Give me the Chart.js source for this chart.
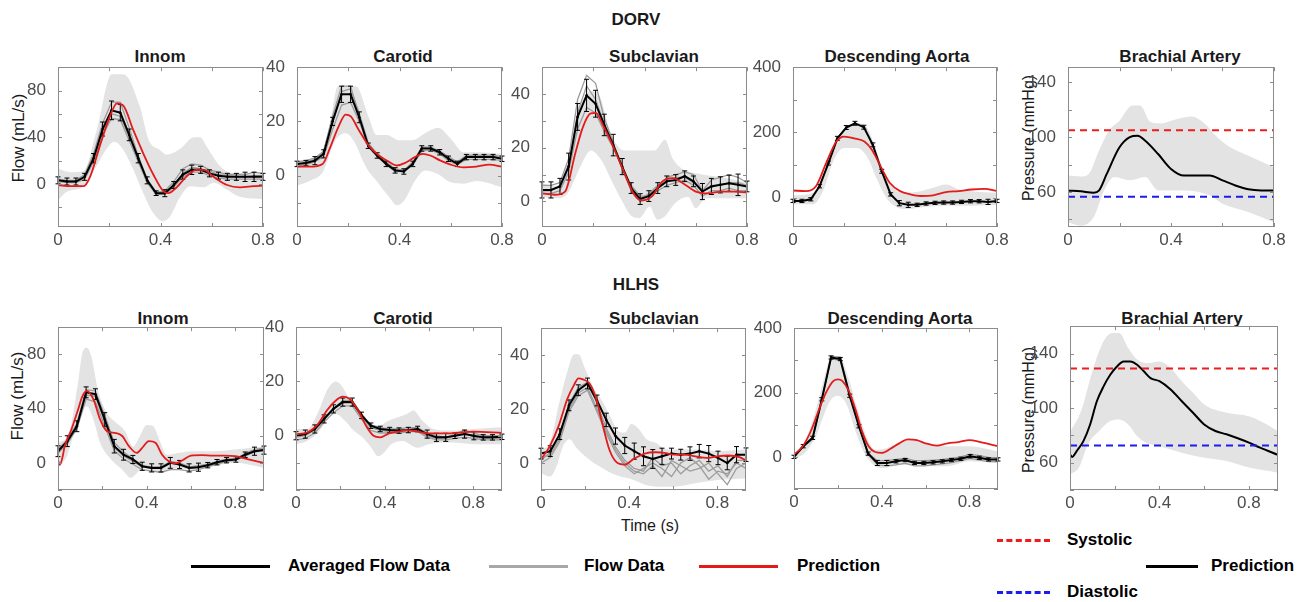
<!DOCTYPE html>
<html>
<head>
<meta charset="utf-8">
<script src="https://cdn.jsdelivr.net/npm/chart.js@4.4.0/dist/chart.umd.min.js"></script>
<style>
  body { margin: 0; width: 1302px; height: 602px; background: #fff; position: relative; overflow: hidden;
         font-family: "Liberation Sans", Arial, Helvetica, sans-serif; }
  canvas { position: absolute; }
  .t { position: absolute; white-space: nowrap; transform: translate(-50%, -50%); line-height: 20px; }
  .b { font-weight: bold; color: #1a1a1a; }
  .rot { transform: translate(-50%, -50%) rotate(-90deg); font-size: 17px; color: #1a1a1a; }
  .leg { position: absolute; white-space: nowrap; font-weight: bold; font-size: 17px; color: #000; line-height: 20px; }
  .ln { position: absolute; height: 3px; }
  .dash { position: absolute; height: 0; }
</style>
</head>
<body>

<div class="t b" style="left:636px;top:20px;font-size:17px">DORV</div>
<div class="t b" style="left:636px;top:285px;font-size:17px">HLHS</div>

<div class="t b" style="left:160px;top:57px;font-size:17px">Innom</div>
<div class="t b" style="left:403px;top:57px;font-size:17px">Carotid</div>
<div class="t b" style="left:654px;top:57px;font-size:17px">Subclavian</div>
<div class="t b" style="left:897px;top:57px;font-size:17px">Descending Aorta</div>
<div class="t b" style="left:1180px;top:57px;font-size:17px">Brachial Artery</div>

<div class="t b" style="left:163px;top:319px;font-size:17px">Innom</div>
<div class="t b" style="left:403px;top:319px;font-size:17px">Carotid</div>
<div class="t b" style="left:654px;top:319px;font-size:17px">Subclavian</div>
<div class="t b" style="left:900px;top:319px;font-size:17px">Descending Aorta</div>
<div class="t b" style="left:1182px;top:319px;font-size:17px">Brachial Artery</div>

<div class="t rot" style="left:19px;top:138px">Flow (mL/s)</div>
<div class="t rot" style="left:18px;top:396px">Flow (mL/s)</div>
<div class="t rot" style="left:1029px;top:138px;font-size:16px">Pressure (mmHg)</div>
<div class="t rot" style="left:1029px;top:410px;font-size:16px">Pressure (mmHg)</div>

<div class="t" style="left:650px;top:526px;font-size:16px;color:#1a1a1a">Time (s)</div>

<div class="ln" style="left:191px;top:565px;width:79px;background:#000"></div>
<div class="leg" style="left:288px;top:556px">Averaged Flow Data</div>
<div class="ln" style="left:489px;top:565px;width:79px;background:#a8a8a8"></div>
<div class="leg" style="left:584px;top:556px">Flow Data</div>
<div class="ln" style="left:699px;top:565px;width:79px;background:#e31b1b"></div>
<div class="leg" style="left:797px;top:556px">Prediction</div>

<div class="dash" style="left:997px;top:539px;width:53px;border-top:3px dashed #ee1c1c"></div>
<div class="leg" style="left:1067px;top:530px">Systolic</div>
<div class="ln" style="left:1146px;top:565px;width:52px;background:#000"></div>
<div class="leg" style="left:1211px;top:556px">Prediction</div>
<div class="dash" style="left:997px;top:591px;width:53px;border-top:3px dashed #1c1cf0"></div>
<div class="leg" style="left:1067px;top:582px">Diastolic</div>

<script>
// time samples of the measured flow curves
const T_TOP = [0, 0.035, 0.07, 0.104, 0.139, 0.174, 0.209, 0.243, 0.278, 0.313, 0.348, 0.383,
  0.417, 0.452, 0.487, 0.522, 0.557, 0.591, 0.626, 0.661, 0.696, 0.730, 0.765, 0.8];
const T_BOT = [0, 0.042, 0.085, 0.127, 0.169, 0.211, 0.254, 0.296, 0.338, 0.380, 0.423, 0.465,
  0.507, 0.549, 0.592, 0.634, 0.676, 0.718, 0.761, 0.803, 0.845, 0.887, 0.93];
const X_LABELS = [0, 0.4, 0.8];

// ---- DORV ----
const dorvInnomAvg = [3, 2, 2, 6, 22, 47, 63, 61, 42, 22, 3, -8, -8, -1, 8, 12, 12, 9, 7, 6, 6, 6, 6, 6];
const dorvInnomErr = [3, 3, 3, 3, 4, 6, 8, 7, 5, 4, 3, 2, 3, 3, 4, 4, 3, 3, 3, 3, 3, 4, 4, 3];
const dorvInnomFlow1 = [4, 3, 3, 8, 26, 52, 70, 70, 48, 24, 4, -8, -6, 2, 13, 17, 16, 12, 10, 8, 8, 8, 10, 9];
const dorvInnomFlow2 = [2, 1, 1, 4, 19, 42, 56, 55, 37, 19, 1, -9, -9, -3, 6, 10, 10, 7, 5, 4, 4, 4, 4, 4];
const dorvInnomFlow3 = [3, 2, 2, 6, 21, 45, 60, 58, 40, 21, 3, -7, -7, -1, 9, 14, 13, 11, 8, 7, 6, 6, 7, 7];
const dorvInnomPredT = [0, 0.05, 0.1, 0.125, 0.164, 0.203, 0.23, 0.255, 0.294, 0.333, 0.372, 0.41, 0.43, 0.463, 0.5, 0.54, 0.57, 0.607, 0.66, 0.71, 0.763, 0.8];
const dorvInnomPred = [-1, -2, -2, 6, 33, 58, 69, 67, 46, 26, 8, -6, -8, -3, 6, 12, 12, 6, -1, -3, -2, -1.5];
const dorvInnomHiT = [0, 0.05, 0.1, 0.15, 0.21, 0.255, 0.32, 0.353, 0.398, 0.424, 0.477, 0.53, 0.555, 0.58, 0.633, 0.685, 0.8];
const dorvInnomHi = [13, 10, 11, 45, 94, 94, 66, 38, 29, 25, 30, 40, 40, 32, 15, 9, 9];
const dorvInnomLoT = [0, 0.033, 0.1, 0.15, 0.19, 0.22, 0.255, 0.294, 0.333, 0.372, 0.41, 0.437, 0.477, 0.516, 0.568, 0.607, 0.66, 0.71, 0.8];
const dorvInnomLo = [-14, -7, -2, 15, 30, 36, 29, 12, -8, -25, -32, -28, -11, -2, -3, 1, -5, -11, -13];

const dorvCarotidAvg = [4.3, 4.6, 5.5, 8, 20, 30, 30, 21.5, 11, 7.4, 4.3, 1.9, 1.5, 4.3, 10, 10, 8.6, 6.2, 4.3, 6.8, 6.8, 6.8, 6.8, 6.2];
const dorvCarotidErr = [1, 1, 1.5, 1.5, 1.5, 3, 3, 2, 1, 1, 1, 1, 1, 1, 1, 1, 1, 1, 1, 1, 1, 1, 1, 1];
const dorvCarotidFlow1 = [4, 5, 6, 9, 22, 33, 33, 22, 11, 7, 4, 1.5, 1.5, 5, 10.5, 10.5, 9, 6.5, 5, 7.5, 7.5, 7.5, 7.5, 7];
const dorvCarotidFlow2 = [3.5, 4, 5, 7, 17, 26, 27, 20, 10.5, 7, 4.5, 2, 1.5, 4, 9, 9.5, 8, 5.5, 4, 6, 6, 6, 6, 5.5];
const dorvCarotidFlow3 = [5, 5.5, 6.5, 9, 21, 31, 32, 23, 12, 8, 5, 2.5, 2, 5, 10, 10, 9, 7, 5, 7, 7, 7.5, 7, 6.5];
const dorvCarotidPredT = [0, 0.05, 0.1, 0.13, 0.16, 0.19, 0.21, 0.24, 0.28, 0.32, 0.36, 0.39, 0.42, 0.46, 0.49, 0.52, 0.56, 0.6, 0.65, 0.7, 0.75, 0.8];
const dorvCarotidPred = [3.3, 3.3, 4.3, 10.5, 17.6, 22.5, 21.8, 17, 11, 7.4, 5, 3.7, 4.6, 6.8, 8, 7.4, 5.5, 4, 3, 3.3, 4, 3.3];
const dorvCarotidHiT = [0, 0.05, 0.1, 0.13, 0.16, 0.23, 0.28, 0.31, 0.35, 0.4, 0.45, 0.5, 0.55, 0.6, 0.65, 0.7, 0.8];
const dorvCarotidHi = [5.5, 6, 9, 20, 33, 33, 21.5, 15, 15, 13, 13, 15.6, 17.6, 13.6, 8.6, 8.6, 8];
const dorvCarotidLoT = [0, 0.05, 0.1, 0.15, 0.19, 0.22, 0.27, 0.31, 0.36, 0.39, 0.42, 0.46, 0.5, 0.55, 0.6, 0.65, 0.7, 0.8];
const dorvCarotidLo = [-3.7, -1.9, 1.2, 13, 15.6, 13, 3, -1.9, -8, -11, -9, -2, 1.9, 0.6, -2.5, -3, -2, -4.3];

const dorvSubclAvg = [4.3, 4.3, 5.6, 13, 31.5, 39.5, 36.4, 28.5, 21, 13, 5, 0.9, 2, 5, 7.5, 8, 9.4, 7.5, 3.7, 5.6, 6.2, 6.8, 6.2, 5.6];
const dorvSubclErr = [3, 3, 3, 5, 5, 6, 5, 4, 4, 3, 2, 2, 2, 2, 2, 2, 2, 2, 3, 3, 3, 3, 4, 2];
const dorvSubclFlow1 = [6, 6, 7, 16, 38, 47, 44, 31, 22, 12, 4, 0, 1, 5, 9, 10, 11, 10, 4, 8, 9, 10, 9, 7];
const dorvSubclFlow2 = [3, 3, 4, 11, 27, 35, 33, 26, 20, 13, 6, 2, 2, 4, 6, 7, 8, 6, 2, 4, 4, 5, 4, 4];
const dorvSubclFlow3 = [4, 4, 6, 14, 33, 43, 38, 29, 21, 12, 5, 1, 3, 6, 8, 9, 9, 7, 4, 6, 6, 7, 7, 6];
const dorvSubclPredT = [0, 0.05, 0.09, 0.13, 0.16, 0.19, 0.21, 0.24, 0.28, 0.32, 0.36, 0.39, 0.43, 0.47, 0.51, 0.55, 0.6, 0.65, 0.7, 0.75, 0.8];
const dorvSubclPred = [3, 2.5, 3.7, 18, 27.8, 32.8, 33, 28, 20, 11, 2.5, 0.4, 2, 7.5, 8.7, 6.8, 3.7, 3, 3.7, 3.7, 3.4];
const dorvSubclHiT = [0, 0.06, 0.1, 0.15, 0.19, 0.22, 0.27, 0.32, 0.38, 0.44, 0.48, 0.51, 0.55, 0.6, 0.7, 0.8];
const dorvSubclHi = [6.8, 5.6, 13, 35, 41, 40, 25, 19, 19, 19, 23, 16, 12, 10.5, 9, 7];
const dorvSubclLoT = [0, 0.06, 0.1, 0.15, 0.19, 0.23, 0.27, 0.31, 0.35, 0.38, 0.42, 0.45, 0.48, 0.52, 0.57, 0.6, 0.64, 0.7, 0.8];
const dorvSubclLo = [1.8, 1.2, 3, 13, 19, 15.6, 8, 0.6, -5.5, -6.2, -1.9, -6.8, -5.5, -0.6, 1.8, -2.5, 1.2, 1.2, 1.2];

const dorvAortaAvg = [-10, -10, -5, 35, 106, 182, 215, 228, 216, 162, 81, 10, -17, -22, -22, -18, -16, -15, -15, -13, -11, -11, -13, -10];
const dorvAortaErr = [5, 5, 5, 5, 6, 6, 6, 6, 6, 6, 6, 5, 8, 8, 5, 5, 5, 5, 5, 5, 5, 5, 8, 5];
const dorvAortaPredT = [0, 0.05, 0.09, 0.13, 0.17, 0.2, 0.24, 0.28, 0.31, 0.35, 0.38, 0.42, 0.46, 0.5, 0.55, 0.6, 0.65, 0.7, 0.75, 0.8];
const dorvAortaPred = [22, 20, 35, 106, 172, 187, 182, 172, 146, 86, 45, 20, 10, 5, 7, 17, 20, 25, 27, 20];
const dorvAortaHiT = [0, 0.08, 0.12, 0.16, 0.2, 0.25, 0.29, 0.33, 0.37, 0.41, 0.45, 0.5, 0.55, 0.6, 0.65, 0.7, 0.8];
const dorvAortaHi = [7, 15, 75, 162, 212, 228, 215, 136, 55, 20, 15, 20, 30, 40, 25, 20, 15];
const dorvAortaLoT = [0, 0.08, 0.12, 0.16, 0.2, 0.25, 0.29, 0.33, 0.37, 0.41, 0.45, 0.5, 0.6, 0.7, 0.8];
const dorvAortaLo = [-20, -20, 25, 116, 152, 152, 126, 55, -5, -30, -35, -30, -25, -25, -22];

const dorvBrachPredT = [0, 0.05, 0.1, 0.12, 0.15, 0.2, 0.24, 0.27, 0.3, 0.35, 0.4, 0.45, 0.5, 0.55, 0.6, 0.65, 0.7, 0.75, 0.8];
const dorvBrachPred = [61.2, 60.5, 59.5, 61, 73, 92.6, 100, 101, 97.4, 87.7, 76.8, 72, 72, 72, 68.5, 64.8, 62, 61.2, 61.2];
const dorvBrachHiT = [0, 0.05, 0.08, 0.12, 0.16, 0.2, 0.25, 0.28, 0.32, 0.36, 0.42, 0.48, 0.53, 0.58, 0.63, 0.7, 0.8];
const dorvBrachHi = [72, 71.3, 73, 90, 105, 112, 123, 123, 111, 110, 113, 115, 110, 100, 92.6, 86.5, 78];
const dorvBrachLoT = [0, 0.05, 0.1, 0.14, 0.18, 0.24, 0.3, 0.35, 0.45, 0.55, 0.6, 0.7, 0.8];
const dorvBrachLo = [38, 35.5, 41.8, 61.2, 71, 68.6, 71, 61.2, 61.2, 57.6, 51.5, 45.5, 38];
const dorvSystolic = 105;
const dorvDiastolic = 56.5;

// ---- HLHS ----
const hlhsInnomAvg = [8.6, 16, 27, 52, 50.6, 32, 12.3, 6, 2.5, -2.5, -3.7, -3.7, 0, -1.2, -3.7, -3.2, -1.7, 0.5, 2, 2.5, 6, 8.6, 9.4];
const hlhsInnomErr = [4, 4, 4, 4, 4, 5, 5, 4, 3, 3, 3, 3, 4, 3, 3, 3, 2, 2, 2, 2, 2, 3, 3];
const hlhsInnomFlow1 = [10, 17, 29, 54, 53, 35, 15, 8, 3, -2, -3, -3, 1, 0, -3, -2, -1, 1, 3, 3, 7, 10, 11];
const hlhsInnomFlow2 = [7, 14, 25, 47, 45, 27, 9, 3, -1, -5, -6, -7, -5, -5, -6, -5, -3, -1, 1, 2, 5, 8, 9];
const hlhsInnomFlow3 = [9, 15, 26, 50, 49, 30, 11, 5, 1, -3, -4, -3, 0, -1, -3, -3, -2, 0, 2, 3, 6, 9, 10];
const hlhsInnomPredT = [0, 0.008, 0.02, 0.03, 0.06, 0.09, 0.11, 0.13, 0.16, 0.19, 0.22, 0.26, 0.29, 0.32, 0.355, 0.38, 0.41, 0.44, 0.47, 0.5, 0.53, 0.56, 0.6, 0.65, 0.7, 0.75, 0.8, 0.85, 0.93];
const hlhsInnomPred = [2, -1.5, 4, 12, 24.4, 39, 49, 53, 46.8, 32, 23.5, 22, 19.8, 12.3, 7.4, 11, 16, 14.8, 6, 1.2, -0.5, 1.7, 5.4, 5.7, 5.4, 5.4, 4.9, 3, 0];
const hlhsInnomHiT = [0, 0.05, 0.09, 0.11, 0.13, 0.15, 0.18, 0.22, 0.26, 0.3, 0.34, 0.37, 0.4, 0.43, 0.46, 0.49, 0.55, 0.6, 0.7, 0.8, 0.93];
const hlhsInnomHi = [14.8, 22, 58.7, 81, 84.8, 78.8, 54, 37, 30, 24, 12, 20, 28, 27, 16, 6, 7.4, 8.6, 8.6, 9.9, 12];
const hlhsInnomLoT = [0, 0.04, 0.08, 0.11, 0.13, 0.16, 0.19, 0.24, 0.29, 0.33, 0.35, 0.38, 0.42, 0.46, 0.5, 0.55, 0.6, 0.7, 0.8, 0.93];
const hlhsInnomLo = [-3.7, 5, 27, 39, 41.7, 32, 14.8, 2.5, -5, -11, -8.6, -3.7, -5, -7.4, -6, -3.7, -5, -2.5, 0, -3.7];

const hlhsCarotidAvg = [0, 0.6, 2.5, 6.2, 9.9, 12.4, 12.4, 7.5, 3.7, 2.5, 2.1, 1.9, 2.1, 2.5, 0.6, -0.6, -0.6, 0, 0.6, 0, -0.6, -0.6, -0.4];
const hlhsCarotidErr = [1.5, 1.5, 1.5, 1.5, 1.5, 1.5, 1.5, 1.2, 1, 1, 1, 1, 1, 1, 1.5, 1.5, 1.5, 1, 1.5, 1.5, 1, 1, 1];
const hlhsCarotidFlow1 = [-0.5, 0, 2, 6, 10, 13, 13, 8, 4, 3, 2.5, 2.5, 3, 3, 1, 0, -0.5, 0.5, 2, 1, 0, 0, 0];
const hlhsCarotidFlow2 = [-1.5, -1, 1, 5, 8.5, 11, 11, 6, 2, 1, 1, 1, 1.5, 1.5, -0.5, -1.5, -1.5, -1, -0.5, -1, -1.5, -1.5, -1.5];
const hlhsCarotidFlow3 = [0, 0.5, 2.5, 6.5, 10, 12, 12, 7, 3, 2, 1.5, 1.5, 2, 2, 0, -1, -1, 0, 1, -0.5, -1, -1, -1];
const hlhsCarotidPredT = [0, 0.05, 0.1, 0.14, 0.18, 0.21, 0.24, 0.28, 0.32, 0.35, 0.38, 0.42, 0.46, 0.5, 0.55, 0.6, 0.7, 0.8, 0.93];
const hlhsCarotidPred = [0.6, 1.2, 4.4, 9.4, 13, 14.4, 13.7, 9.4, 3.1, 0, -0.6, 0.9, 1.5, 2.1, 1.5, 0.9, 0.9, 1.5, 1];
const hlhsCarotidHiT = [0, 0.05, 0.1, 0.14, 0.18, 0.21, 0.25, 0.28, 0.32, 0.37, 0.42, 0.46, 0.5, 0.53, 0.57, 0.62, 0.7, 0.8, 0.93];
const hlhsCarotidHi = [2.5, 2.5, 8.7, 16.8, 20, 18, 11.8, 9.3, 5.6, 3.7, 5.6, 6.8, 8, 9.3, 5.6, 2.5, 1.9, 2.5, 3.1];
const hlhsCarotidLoT = [0, 0.05, 0.1, 0.14, 0.18, 0.22, 0.26, 0.3, 0.34, 0.37, 0.39, 0.43, 0.48, 0.55, 0.6, 0.7, 0.8, 0.93];
const hlhsCarotidLo = [-3.1, -1.9, 1.2, 5.6, 8, 5.6, 1.9, -0.6, -4.4, -7.5, -6.8, -3.1, -1.9, -4.4, -3.1, -2.5, -3.1, -3.1];

const hlhsSubclAvg = [3.5, 4.4, 10.7, 21.4, 27, 29.5, 23.2, 16, 10, 6.5, 4.4, 2.5, 1.5, 2.5, 3.5, 3.1, 3.5, 4.4, 3.5, 1.9, 0, 3.1, 3.1];
const hlhsSubclErr = [2, 2, 2, 2, 2, 2, 2, 2.5, 3, 3, 3, 3.5, 3.5, 3, 2, 2, 2.5, 2.5, 3, 2.5, 2.5, 3, 2.5];
const hlhsSubclFlow1 = [2, 3, 9, 20, 26, 28, 20, 12, 5, 0, -3, -4, -1, -5, 1, -1, -3, -2, 0, -4, -8, -2, 0];
const hlhsSubclFlow2 = [0, 2, 8, 19, 25, 27, 19, 11, 4, -1, -4, -2, 0, -2, -5, 0, 2, -1, -6, -3, -4, 0, -2];
const hlhsSubclFlow3 = [1, 4, 10, 22, 28, 30, 22, 13, 6, 1, -2, -3, 2, -1, 0, -4, -1, 1, -3, -1, -5, 1, 1];
const hlhsSubclPredT = [0, 0.04, 0.08, 0.12, 0.15, 0.17, 0.19, 0.22, 0.25, 0.28, 0.31, 0.34, 0.38, 0.42, 0.47, 0.52, 0.56, 0.6, 0.65, 0.7, 0.75, 0.8, 0.85, 0.9, 0.93];
const hlhsSubclPred = [1.3, 6.3, 13.8, 23.9, 29, 31.4, 31, 29.5, 24, 14, 5, 0.5, -0.6, 1.5, 3.5, 4, 3.8, 3.1, 3.1, 2.5, 1.9, 2.5, 2.8, 2.2, 0.9];
const hlhsSubclHiT = [0, 0.04, 0.08, 0.12, 0.15, 0.17, 0.2, 0.24, 0.28, 0.32, 0.35, 0.38, 0.41, 0.44, 0.48, 0.52, 0.57, 0.63, 0.7, 0.8, 0.93];
const hlhsSubclHi = [5, 7.5, 21.4, 34, 40.3, 40.3, 35, 27.7, 22.6, 16.3, 11.9, 11.3, 14.5, 13, 8.7, 7.5, 5, 5, 5, 4.4, 5];
const hlhsSubclLoT = [0, 0.04, 0.07, 0.1, 0.13, 0.16, 0.2, 0.24, 0.28, 0.32, 0.36, 0.4, 0.44, 0.48, 0.55, 0.6, 0.7, 0.8, 0.93];
const hlhsSubclLo = [-3.8, -5, -1.3, 6.3, 8.8, 5.7, 2.5, 0, -1.9, -3.8, -5, -5.7, -6.9, -8.2, -8.8, -8.8, -7.5, -6.3, -5.7];

const hlhsAortaAvg = [0, 33, 59, 179, 309, 304, 190, 95, 10, -19, -19, -14, -10, -19, -19, -17, -14, -10, -6, 2, -3, -8, -8];
const hlhsAortaErr = [5, 5, 5, 5, 5, 5, 5, 5, 5, 8, 8, 5, 5, 5, 5, 5, 5, 5, 5, 5, 5, 5, 5];
const hlhsAortaFlow1 = [0, 30, 55, 175, 312, 310, 195, 98, 8, -25, -28, -25, -20, -28, -28, -25, -22, -18, -12, -5, -10, -15, -15];
const hlhsAortaFlow2 = [0, 35, 62, 182, 305, 300, 185, 92, 12, -12, -12, -8, -4, -12, -12, -10, -8, -4, 0, 8, 4, -2, -3];
const hlhsAortaPredT = [0, 0.04, 0.08, 0.12, 0.15, 0.18, 0.2, 0.22, 0.25, 0.28, 0.31, 0.34, 0.37, 0.4, 0.44, 0.48, 0.52, 0.56, 0.6, 0.65, 0.7, 0.75, 0.8, 0.85, 0.93];
const hlhsAortaPred = [7, 33, 85, 158, 205, 236, 241, 236, 205, 148, 80, 33, 15, 12.5, 25, 42, 54, 52, 42, 35, 42, 46, 52, 46, 33];
const hlhsAortaHiT = [0, 0.05, 0.1, 0.14, 0.17, 0.21, 0.25, 0.29, 0.33, 0.37, 0.42, 0.48, 0.55, 0.6, 0.7, 0.8, 0.93];
const hlhsAortaHi = [7, 48, 147, 252, 314, 309, 241, 147, 64, 22, 27, 43, 54, 43, 33, 33, 17];
const hlhsAortaLoT = [0, 0.05, 0.1, 0.14, 0.17, 0.2, 0.24, 0.28, 0.32, 0.36, 0.4, 0.45, 0.5, 0.6, 0.7, 0.8, 0.93];
const hlhsAortaLo = [-6, 12.5, 64, 137, 179, 189, 163, 80, 12.5, -24, -35, -29, -24, -29, -29, -14, -19];

const hlhsBrachPredT = [0, 0.01, 0.03, 0.06, 0.09, 0.12, 0.15, 0.18, 0.21, 0.24, 0.27, 0.3, 0.33, 0.36, 0.4, 0.45, 0.5, 0.55, 0.6, 0.65, 0.7, 0.75, 0.8, 0.85, 0.93];
const hlhsBrachPred = [66.1, 64.2, 68.5, 75.8, 88, 105, 115.9, 124.4, 130.5, 134.2, 134.2, 131.8, 127, 122, 119.7, 113.6, 105, 96.6, 88, 83.2, 80.8, 77.9, 74.7, 71, 65.7];
const hlhsBrachHiT = [0, 0.05, 0.1, 0.15, 0.19, 0.22, 0.26, 0.3, 0.35, 0.4, 0.45, 0.5, 0.55, 0.6, 0.7, 0.8, 0.85, 0.93];
const hlhsBrachHi = [82.2, 98, 127, 148.9, 155, 155, 144, 135.6, 133, 134.2, 129.4, 119.7, 111.2, 102.6, 96.6, 94, 90.5, 83.2];
const hlhsBrachLoT = [0, 0.04, 0.08, 0.13, 0.18, 0.22, 0.26, 0.3, 0.34, 0.4, 0.5, 0.6, 0.7, 0.8, 0.93];
const hlhsBrachLo = [51.5, 56.4, 73.4, 83.2, 90.5, 91.7, 88, 79.4, 74.6, 72.1, 67.3, 63.6, 61.2, 56.4, 52.7];
const hlhsSystolic = 129;
const hlhsDiastolic = 72.6;

// ---- look ----
const FONT = '"Liberation Sans", Arial, Helvetica, sans-serif';
const RED = '#e31b1b';
const BAND = '#e3e3e3';
const FLOW_GRAY = '#9c9c9c';
const AXIS = '#8c8c8c';
const TICK_COLOR = '#4d4d4d';
const Y_W = 46, PAD_T = 14, PAD_R = 22, X_H = 34;

Chart.defaults.font.family = FONT;

const flowPanels = [
  { rect: [58, 67, 205, 160], t: T_TOP, xMax: 0.8, avg: dorvInnomAvg, err: dorvInnomErr,
    flows: [dorvInnomFlow1, dorvInnomFlow2, dorvInnomFlow3],
    predT: dorvInnomPredT, pred: dorvInnomPred, hiT: dorvInnomHiT, hi: dorvInnomHi, loT: dorvInnomLoT, lo: dorvInnomLo,
    y: { min: -37, max: 100, step: 20, labels: [0, 40, 80] } },
  { rect: [297, 67, 205, 160], t: T_TOP, xMax: 0.8, avg: dorvCarotidAvg, err: dorvCarotidErr,
    flows: [dorvCarotidFlow1, dorvCarotidFlow2, dorvCarotidFlow3],
    predT: dorvCarotidPredT, pred: dorvCarotidPred, hiT: dorvCarotidHiT, hi: dorvCarotidHi, loT: dorvCarotidLoT, lo: dorvCarotidLo,
    y: { min: -19, max: 40, step: 10, labels: [0, 20, 40] } },
  { rect: [542, 67, 205, 160], t: T_TOP, xMax: 0.8, avg: dorvSubclAvg, err: dorvSubclErr,
    flows: [dorvSubclFlow1, dorvSubclFlow2, dorvSubclFlow3],
    predT: dorvSubclPredT, pred: dorvSubclPred, hiT: dorvSubclHiT, hi: dorvSubclHi, loT: dorvSubclLoT, lo: dorvSubclLo,
    y: { min: -9.5, max: 50, step: 10, labels: [0, 20, 40] } },
  { rect: [793, 67, 204, 160], t: T_TOP, xMax: 0.8, avg: dorvAortaAvg, err: dorvAortaErr,
    flows: [],
    predT: dorvAortaPredT, pred: dorvAortaPred, hiT: dorvAortaHiT, hi: dorvAortaHi, loT: dorvAortaLoT, lo: dorvAortaLo,
    y: { min: -90, max: 400, step: 100, labels: [0, 200, 400] } },
  { rect: [58, 327, 206, 163], t: T_BOT, xMax: 0.93, avg: hlhsInnomAvg, err: hlhsInnomErr,
    flows: [hlhsInnomFlow1, hlhsInnomFlow2, hlhsInnomFlow3],
    predT: hlhsInnomPredT, pred: hlhsInnomPred, hiT: hlhsInnomHiT, hi: hlhsInnomHi, loT: hlhsInnomLoT, lo: hlhsInnomLo,
    y: { min: -20, max: 100, step: 20, labels: [0, 40, 80] } },
  { rect: [296, 327, 206, 163], t: T_BOT, xMax: 0.93, avg: hlhsCarotidAvg, err: hlhsCarotidErr,
    flows: [hlhsCarotidFlow1, hlhsCarotidFlow2, hlhsCarotidFlow3],
    predT: hlhsCarotidPredT, pred: hlhsCarotidPred, hiT: hlhsCarotidHiT, hi: hlhsCarotidHi, loT: hlhsCarotidLoT, lo: hlhsCarotidLo,
    y: { min: -20, max: 40, step: 10, labels: [0, 20, 40] } },
  { rect: [541, 328, 205, 162], t: T_BOT, xMax: 0.93, avg: hlhsSubclAvg, err: hlhsSubclErr,
    flows: [hlhsSubclFlow1, hlhsSubclFlow2, hlhsSubclFlow3],
    predT: hlhsSubclPredT, pred: hlhsSubclPred, hiT: hlhsSubclHiT, hi: hlhsSubclHi, loT: hlhsSubclLoT, lo: hlhsSubclLo,
    y: { min: -10, max: 50, step: 10, labels: [0, 20, 40] } },
  { rect: [794, 328, 204, 161], t: T_BOT, xMax: 0.93, avg: hlhsAortaAvg, err: hlhsAortaErr,
    flows: [hlhsAortaFlow1, hlhsAortaFlow2],
    predT: hlhsAortaPredT, pred: hlhsAortaPred, hiT: hlhsAortaHiT, hi: hlhsAortaHi, loT: hlhsAortaLoT, lo: hlhsAortaLo,
    y: { min: -100, max: 400, step: 100, labels: [0, 200, 400] } }
];

const pressurePanels = [
  { rect: [1068, 67, 206, 160], xMax: 0.8, predT: dorvBrachPredT, pred: dorvBrachPred,
    hiT: dorvBrachHiT, hi: dorvBrachHi, loT: dorvBrachLoT, lo: dorvBrachLo, sys: dorvSystolic, dia: dorvDiastolic,
    y: { min: 34.5, max: 151, step: 20, labels: [60, 100, 140] } },
  { rect: [1070, 326, 208, 164], xMax: 0.93, predT: hlhsBrachPredT, pred: hlhsBrachPred,
    hiT: hlhsBrachHiT, hi: hlhsBrachHi, loT: hlhsBrachLoT, lo: hlhsBrachLo, sys: hlhsSystolic, dia: hlhsDiastolic,
    y: { min: 40, max: 160, step: 20, labels: [60, 100, 140] } }
];

function xy(xs, ys) {
  return xs.map((x, i) => ({ x, y: ys[i] }));
}

function isLabel(v, list) {
  return list.some(l => Math.abs(l - v) < 1e-6);
}

function fmtX(v) {
  return Math.abs(v) < 1e-9 ? '0' : v.toFixed(1);
}

// tick positions: every multiple of step inside [min, max]
function stepTicks(min, max, step) {
  const out = [];
  for (let k = Math.ceil(min / step - 1e-9); k * step <= max + 1e-9; k++) {
    out.push({ value: Math.round(k * step * 1e6) / 1e6 });
  }
  return out;
}

// boxed axes with inward ticks, like the MATLAB original
const boxPlugin = {
  id: 'box',
  afterDatasetsDraw(chart) {
    const { ctx, chartArea: a, scales: { x, y } } = chart;
    ctx.save();
    ctx.strokeStyle = AXIS;
    ctx.lineWidth = 1;
    ctx.strokeRect(Math.round(a.left) + 0.5, Math.round(a.top) + 0.5, Math.round(a.width) - 1, Math.round(a.height) - 1);
    ctx.beginPath();
    x.ticks.forEach(t => {
      const px = Math.round(x.getPixelForValue(t.value)) + 0.5;
      ctx.moveTo(px, a.bottom); ctx.lineTo(px, a.bottom - 4);
      ctx.moveTo(px, a.top); ctx.lineTo(px, a.top + 4);
    });
    y.ticks.forEach(t => {
      const py = Math.round(y.getPixelForValue(t.value)) + 0.5;
      ctx.moveTo(a.left, py); ctx.lineTo(a.left + 4, py);
      ctx.moveTo(a.right, py); ctx.lineTo(a.right - 4, py);
    });
    ctx.stroke();
    ctx.restore();
  }
};

// vertical error bars on the averaged data
const errorBarPlugin = {
  id: 'errbars',
  afterDatasetDraw(chart, args) {
    const ds = chart.data.datasets[args.index];
    if (!ds.errors) return;
    const { ctx, scales: { x, y } } = chart;
    ctx.save();
    ctx.strokeStyle = '#000';
    ctx.lineWidth = 1;
    ctx.beginPath();
    ds.data.forEach((p, i) => {
      const e = ds.errors[i];
      const px = x.getPixelForValue(p.x);
      const y1 = y.getPixelForValue(p.y + e);
      const y2 = y.getPixelForValue(p.y - e);
      ctx.moveTo(px, y1); ctx.lineTo(px, y2);
      ctx.moveTo(px - 2.5, y1); ctx.lineTo(px + 2.5, y1);
      ctx.moveTo(px - 2.5, y2); ctx.lineTo(px + 2.5, y2);
    });
    ctx.stroke();
    ctx.restore();
  }
};

function scalesFor(p) {
  return {
    x: {
      type: 'linear', min: 0, max: p.xMax,
      afterFit: s => { s.height = X_H; },
      afterBuildTicks: s => { s.ticks = stepTicks(0, p.xMax, 0.2); },
      grid: { display: false }, border: { display: false },
      ticks: {
        autoSkip: false, maxRotation: 0, padding: -5,
        color: TICK_COLOR, font: { size: 17 },
        callback: v => isLabel(v, X_LABELS) ? fmtX(v) : ''
      }
    },
    y: {
      type: 'linear', min: p.y.min, max: p.y.max,
      afterFit: s => { s.width = Y_W; },
      afterBuildTicks: s => { s.ticks = stepTicks(p.y.min, p.y.max, p.y.step); },
      grid: { display: false }, border: { display: false },
      ticks: {
        autoSkip: false, padding: 4,
        color: TICK_COLOR, font: { size: 17 },
        callback: v => isLabel(v, p.y.labels) ? String(v) : ''
      }
    }
  };
}

function bandSets(p) {
  return [
    { data: xy(p.loT, p.lo), borderColor: 'rgba(0,0,0,0)', borderWidth: 0, pointRadius: 0,
      cubicInterpolationMode: 'monotone', fill: false, order: 10 },
    { data: xy(p.hiT, p.hi), borderColor: 'rgba(0,0,0,0)', borderWidth: 0, pointRadius: 0,
      cubicInterpolationMode: 'monotone', fill: 0, backgroundColor: BAND, order: 9 }
  ];
}

function makeCanvas(rect) {
  const [l, t, w, h] = rect;
  const cw = w + Y_W + PAD_R, ch = h + PAD_T + X_H;
  const c = document.createElement('canvas');
  c.width = cw; c.height = ch;
  c.style.left = (l - Y_W) + 'px';
  c.style.top = (t - PAD_T) + 'px';
  c.style.width = cw + 'px';
  c.style.height = ch + 'px';
  document.body.appendChild(c);
  return c;
}

function baseOptions(p) {
  return {
    responsive: false, animation: false, events: [],
    layout: { padding: { top: PAD_T, right: PAD_R, left: 0, bottom: 0 } },
    plugins: { legend: { display: false }, tooltip: { enabled: false } },
    scales: scalesFor(p)
  };
}

flowPanels.forEach(p => {
  const datasets = bandSets(p);
  p.flows.forEach(f => datasets.push({
    data: xy(p.t, f), borderColor: FLOW_GRAY, borderWidth: 1.3, pointRadius: 0, tension: 0, order: 5
  }));
  datasets.push({
    data: xy(p.t, p.avg), errors: p.err, borderColor: '#000', borderWidth: 2,
    pointRadius: 1.3, pointBackgroundColor: '#000', pointBorderWidth: 0, tension: 0, order: 2
  });
  datasets.push({
    data: xy(p.predT, p.pred), borderColor: RED, borderWidth: 1.8, pointRadius: 0,
    cubicInterpolationMode: 'monotone', order: 1
  });
  new Chart(makeCanvas(p.rect), {
    type: 'line',
    data: { datasets },
    options: baseOptions(p),
    plugins: [boxPlugin, errorBarPlugin]
  });
});

pressurePanels.forEach(p => {
  const datasets = bandSets(p);
  datasets.push({
    data: xy(p.predT, p.pred), borderColor: '#000', borderWidth: 2, pointRadius: 0,
    cubicInterpolationMode: 'monotone', order: 2
  });
  datasets.push({
    data: xy([0, p.xMax], [p.sys, p.sys]), borderColor: '#ee1c1c', borderWidth: 2,
    borderDash: [7, 5], pointRadius: 0, order: 1
  });
  datasets.push({
    data: xy([0, p.xMax], [p.dia, p.dia]), borderColor: '#1c1cf0', borderWidth: 2,
    borderDash: [7, 5], pointRadius: 0, order: 1
  });
  new Chart(makeCanvas(p.rect), {
    type: 'line',
    data: { datasets },
    options: baseOptions(p),
    plugins: [boxPlugin]
  });
});
</script>
</body>
</html>
